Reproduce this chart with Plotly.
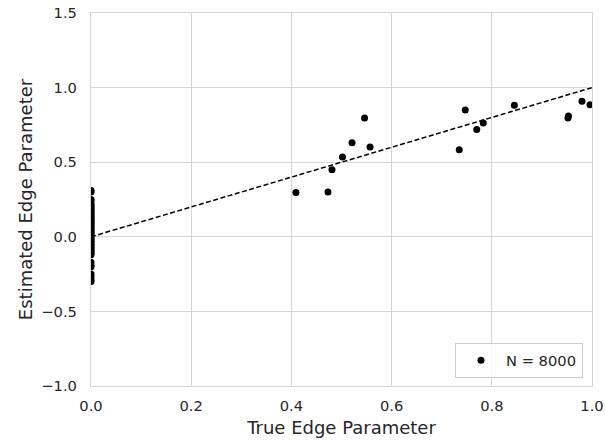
import plotly.graph_objects as go

# Points with true edge parameter = 0 (estimated values)
zero_est = [0.31, 0.30, 0.25, 0.24, 0.22, 0.21, 0.20, 0.19, 0.18, 0.17, 0.16, 0.15,
            0.14, 0.13, 0.12, 0.11, 0.10, 0.09, 0.08, 0.07, 0.06, 0.05, 0.04, 0.03,
            0.02, 0.01, 0.00, -0.01, -0.02, -0.03, -0.04, -0.05, -0.06, -0.07, -0.08,
            -0.09, -0.10, -0.11, -0.12, -0.17, -0.19, -0.20, -0.25, -0.27, -0.29, -0.30]
zero_true = [0.0] * len(zero_est)

# Points with non-zero true edge parameter
nz_true = [0.409, 0.473, 0.481, 0.502, 0.521, 0.546, 0.557, 0.735, 0.747, 0.770,
           0.783, 0.845, 0.952, 0.953, 0.980, 0.996]
nz_est = [0.297, 0.300, 0.450, 0.535, 0.630, 0.797, 0.602, 0.584, 0.850, 0.720,
          0.762, 0.882, 0.797, 0.810, 0.908, 0.885]

x_all = zero_true + nz_true
y_all = zero_est + nz_est

diag = [0.0, 1.0]

x_ticks = [0.0, 0.2, 0.4, 0.6, 0.8, 1.0]
y_ticks = [-1.0, -0.5, 0.0, 0.5, 1.0, 1.5]

font = "DejaVu Sans"
txt = "#262626"
grid = "#d5d5d5"
fs = 14.7

fig = go.Figure()
fig.add_trace(go.Scatter(x=x_all, y=y_all, mode="markers",
                         marker=dict(color="black", size=7),
                         name="N = 8000", showlegend=True))
fig.add_trace(go.Scatter(x=diag, y=diag, mode="lines",
                         line=dict(color="black", width=1.5, dash="5px,2.5px"),
                         showlegend=False, hoverinfo="skip"))

fig.update_layout(
    width=605, height=441,
    margin=dict(l=91, r=13, t=13, b=55, autoexpand=False),
    paper_bgcolor="white", plot_bgcolor="white",
    font=dict(family=font, size=fs, color=txt),
    legend=dict(x=0.982, y=0.021, xanchor="right", yanchor="bottom",
                bgcolor="rgba(255,255,255,0.8)", bordercolor="#cccccc", borderwidth=1,
                font=dict(size=fs, color=txt), itemwidth=40),
)
fig.update_xaxes(range=[0, 1], tickvals=x_ticks, ticktext=[f"{v:.1f}" for v in x_ticks],
                 showgrid=True, gridcolor=grid, gridwidth=1.2, automargin=False,
                 showline=True, linecolor=grid, linewidth=1.3, mirror=True,
                 zeroline=False, ticks="", ticklabelstandoff=6,
                 title=dict(text="True Edge Parameter", standoff=8),
                 tickfont=dict(size=fs))
fig.update_yaxes(range=[-1, 1.5], tickvals=y_ticks,
                 ticktext=[("\u2212" if v < 0 else "") + f"{abs(v):.1f}" for v in y_ticks],
                 showgrid=True, gridcolor=grid, gridwidth=1.2, automargin=False,
                 showline=True, linecolor=grid, linewidth=1.3, mirror=True,
                 zeroline=False, ticks="", ticklabelstandoff=10,
                 title=dict(text="Estimated Edge Parameter", standoff=3),
                 tickfont=dict(size=fs))

fig.write_html("out.html")
